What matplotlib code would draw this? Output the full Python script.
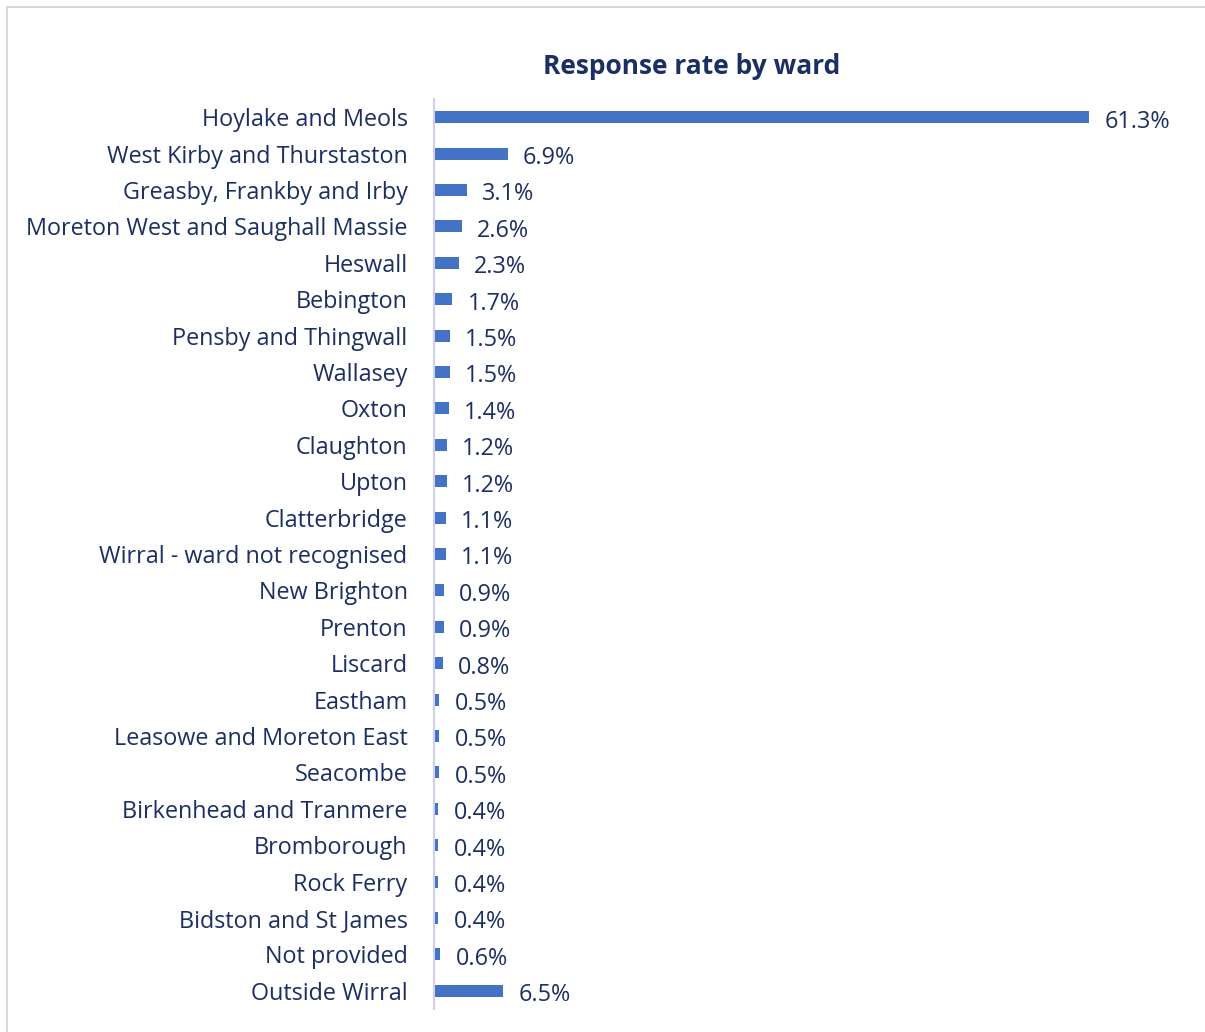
import matplotlib.pyplot as plt
from matplotlib.lines import Line2D

# Data
wards = ['Hoylake and Meols', 'West Kirby and Thurstaston', 'Greasby, Frankby and Irby',
         'Moreton West and Saughall Massie', 'Heswall', 'Bebington', 'Pensby and Thingwall',
         'Wallasey', 'Oxton', 'Claughton', 'Upton', 'Clatterbridge',
         'Wirral - ward not recognised', 'New Brighton', 'Prenton', 'Liscard', 'Eastham',
         'Leasowe and Moreton East', 'Seacombe', 'Birkenhead and Tranmere', 'Bromborough',
         'Rock Ferry', 'Bidston and St James', 'Not provided', 'Outside Wirral']
rates = [61.3, 6.9, 3.1, 2.6, 2.3, 1.7, 1.5, 1.5, 1.4, 1.2, 1.2, 1.1, 1.1,
         0.9, 0.9, 0.8, 0.5, 0.5, 0.5, 0.4, 0.4, 0.4, 0.4, 0.6, 6.5]
labels = ['61.3%', '6.9%', '3.1%', '2.6%', '2.3%', '1.7%', '1.5%', '1.5%', '1.4%', '1.2%',
          '1.2%', '1.1%', '1.1%', '0.9%', '0.9%', '0.8%', '0.5%', '0.5%', '0.5%', '0.4%',
          '0.4%', '0.4%', '0.4%', '0.6%', '6.5%']

BAR = '#4472c4'
TXT = '#1c2f63'
plt.rcParams['font.family'] = ['Open Sans', 'DejaVu Sans']

W, H = 1205, 1032
fig = plt.figure(figsize=(W / 100, H / 100), dpi=100)
ax = fig.add_axes([434 / W, 1 - 1009 / H, 748 / W, 910 / H])

y = list(range(len(wards)))
ax.barh(y, rates, height=0.33, color=BAR)
for yi, v, lab in zip(y, rates, labels):
    ax.annotate(lab, (v, yi), xytext=(11, -1), textcoords='offset points',
                va='center_baseline', ha='left', fontsize=16.8, color=TXT)

ax.set_xlim(0, 70)
ax.set_ylim(len(wards) - 0.5, -0.5)
ax.set_yticks(y)
ax.set_yticklabels(wards, fontsize=16.8, color=TXT, va='center_baseline')
ax.tick_params(axis='y', length=0, pad=19)
ax.set_xticks([])
for s in ['top', 'right', 'bottom']:
    ax.spines[s].set_visible(False)
ax.spines['left'].set_color('#d0d0ec')
ax.spines['left'].set_linewidth(1.5)

fig.text(692 / W, 1 - 66 / H, 'Response rate by ward', ha='center', va='center',
         fontsize=19, fontweight='bold', color=TXT)

# chart border (top and left visible)
fig.add_artist(Line2D([7 / W, 1], [1 - 7 / H, 1 - 7 / H], color='#d9d9d9', lw=1.5,
                      transform=fig.transFigure))
fig.add_artist(Line2D([7 / W, 7 / W], [0, 1 - 7 / H], color='#d9d9d9', lw=1.5,
                      transform=fig.transFigure))

fig.savefig('out.png', dpi=100, facecolor='white')
